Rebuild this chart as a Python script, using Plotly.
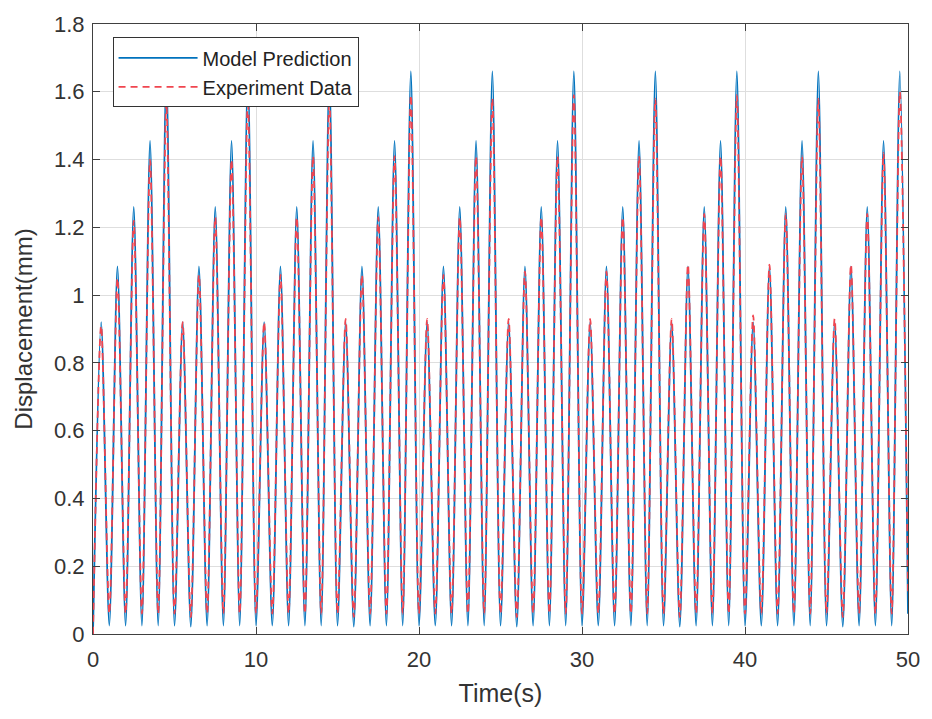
import plotly.graph_objects as go

# Peak / trough readings (one oscillation per second)
peak_times = [k + 0.5 for k in range(50)]
trough_times = [float(k) for k in range(51)]

model_peaks = [
    0.92, 1.085, 1.26, 1.455, 1.66, 0.92, 1.085, 1.26, 1.455, 1.66,
    0.92, 1.085, 1.26, 1.455, 1.66, 0.92, 1.085, 1.26, 1.455, 1.66,
    0.92, 1.085, 1.26, 1.455, 1.66, 0.92, 1.085, 1.26, 1.455, 1.66,
    0.92, 1.085, 1.26, 1.455, 1.66, 0.92, 1.085, 1.26, 1.455, 1.66,
    0.92, 1.085, 1.26, 1.455, 1.66, 0.92, 1.085, 1.26, 1.455, 1.66,
]
model_troughs = [
    0.0, 0.025, 0.025, 0.025, 0.025, 0.025, 0.022, 0.025, 0.025, 0.025,
    0.025, 0.025, 0.025, 0.025, 0.025, 0.025, 0.022, 0.025, 0.025, 0.025,
    0.025, 0.025, 0.025, 0.025, 0.025, 0.025, 0.022, 0.025, 0.025, 0.025,
    0.025, 0.025, 0.025, 0.025, 0.025, 0.025, 0.022, 0.025, 0.025, 0.025,
    0.025, 0.025, 0.025, 0.025, 0.025, 0.025, 0.022, 0.025, 0.025, 0.025,
    0.06,
]
exp_peaks = [
    0.91, 1.05, 1.22, 1.40, 1.57, 0.92, 1.06, 1.23, 1.40, 1.58,
    0.92, 1.06, 1.23, 1.41, 1.58, 0.93, 1.06, 1.23, 1.41, 1.59,
    0.93, 1.06, 1.23, 1.41, 1.58, 0.93, 1.07, 1.23, 1.41, 1.59,
    0.93, 1.07, 1.23, 1.41, 1.58, 0.93, 1.09, 1.24, 1.41, 1.59,
    0.94, 1.09, 1.24, 1.41, 1.58, 0.93, 1.09, 1.24, 1.42, 1.60,
]
exp_troughs = [
    0.0, 0.06, 0.06, 0.06, 0.06, 0.06, 0.05, 0.06, 0.06, 0.06,
    0.06, 0.06, 0.06, 0.06, 0.06, 0.06, 0.05, 0.06, 0.06, 0.06,
    0.06, 0.06, 0.06, 0.06, 0.06, 0.06, 0.05, 0.06, 0.06, 0.06,
    0.06, 0.06, 0.06, 0.06, 0.06, 0.06, 0.05, 0.06, 0.06, 0.06,
    0.06, 0.06, 0.06, 0.06, 0.06, 0.06, 0.05, 0.06, 0.06, 0.06,
    0.12,
]


def interleave(tt, tv, pt, pv):
    xs, ys = [], []
    for i in range(len(pt)):
        xs += [tt[i], pt[i]]
        ys += [tv[i], pv[i]]
    xs.append(tt[-1])
    ys.append(tv[-1])
    return xs, ys


mx, my = interleave(trough_times, model_troughs, peak_times, model_peaks)
ex, ey = interleave(trough_times, exp_troughs, peak_times, exp_peaks)

FONT = "Liberation Sans, Arial"

fig = go.Figure()
fig.add_trace(go.Scatter(
    x=mx, y=my, mode="lines", name="Model Prediction",
    line=dict(color="#0072BD", width=1.8, shape="spline", smoothing=0.8),
))
fig.add_trace(go.Scatter(
    x=ex, y=ey, mode="lines", name="Experiment Data",
    line=dict(color="#F0454F", width=1.8, dash="7px,5px", shape="spline", smoothing=0.8),
))

axis_common = dict(
    showline=True, linecolor="#404040", linewidth=1, mirror="ticks",
    ticks="inside", ticklen=7, tickcolor="#404040",
    showgrid=True, gridcolor="#dedede", gridwidth=1, zeroline=False,
    tickfont=dict(family=FONT, size=22, color="#333333"),
)

fig.update_xaxes(
    range=[0, 50], tickvals=[0, 10, 20, 30, 40, 50],
    ticklabelstandoff=6,
    title=dict(text="Time(s)", font=dict(family=FONT, size=25, color="#333333"), standoff=13),
    **axis_common,
)
fig.update_yaxes(
    range=[0, 1.8], tickvals=[0, 0.2, 0.4, 0.6, 0.8, 1, 1.2, 1.4, 1.6, 1.8],
    ticktext=["0", "0.2", "0.4", "0.6", "0.8", "1", "1.2", "1.4", "1.6", "1.8"],
    ticklabelstandoff=3,
    title=dict(text="Displacement(mm)", font=dict(family=FONT, size=24, color="#333333"), standoff=14),
    **axis_common,
)

fig.update_layout(
    width=932, height=719,
    margin=dict(l=93, r=20, t=19, b=85),
    paper_bgcolor="white", plot_bgcolor="white",
    showlegend=True,
    legend=dict(
        x=0.024, y=0.978, xanchor="left", yanchor="top",
        bordercolor="#333333", borderwidth=1, bgcolor="white",
        font=dict(family=FONT, size=20, color="#222222"),
        itemwidth=79, tracegroupgap=0,
    ),
)

fig.write_html("out.html")
